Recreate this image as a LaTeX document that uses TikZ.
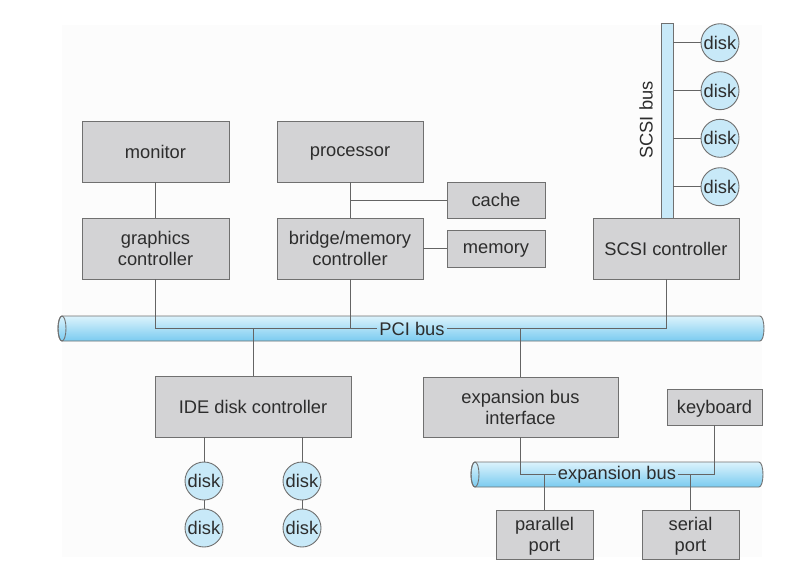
\documentclass[tikz,border=0pt]{standalone}
\usepackage{fontspec}
\setmainfont{Liberation Sans}
\usetikzlibrary{calc}
\definecolor{boxfill}{RGB}{211,211,213}
\definecolor{boxline}{RGB}{112,112,112}
\definecolor{wire}{RGB}{100,100,100}
\definecolor{txt}{RGB}{45,45,45}
\definecolor{diskfill}{RGB}{200,233,248}
\definecolor{bustop}{RGB}{220,243,252}
\definecolor{busbot}{RGB}{122,203,240}
\definecolor{bg}{RGB}{252,252,252}
\tikzset{
  box/.style={draw=boxline, fill=boxfill, line width=0.9pt, text=txt, align=center,
    font=\fontsize{18.3}{21}\selectfont, inner sep=0pt, text depth=0pt},
  disk/.style={circle, draw=boxline, fill=diskfill, line width=0.9pt, text=txt,
    minimum size=38pt, inner sep=0pt, font=\fontsize{18.3}{21}\selectfont},
  wireline/.style={draw=wire, line width=0.9pt},
  buslabel/.style={text=txt, inner sep=2pt, font=\fontsize{18.3}{21}\selectfont},
  busbody/.style={draw=boxline, line width=0.9pt, top color=bustop, bottom color=busbot},
}
\newcommand{\hbus}[4]{% x0 x1 yc ry
  \shade[busbody] (#1,#3-#4) -- (#2,#3-#4) arc[start angle=-90,end angle=90,x radius=4,y radius=#4]
    -- (#1,#3+#4) arc[start angle=90,end angle=270,x radius=4,y radius=#4] -- cycle;
  \draw[draw=boxline, line width=0.9pt] (#1,#3) ellipse[x radius=4,y radius=#4];
}
\begin{document}
\begin{tikzpicture}[x=1pt,y=-1pt]
\useasboundingbox (0,0) rectangle (797,574);
\fill[bg] (62,25) rectangle (762,557);

% buses
\hbus{62}{760}{328.5}{12.5}
\hbus{475}{759}{474.5}{12.5}
\draw[draw=boxline, fill=diskfill, line width=0.9pt] (661,23) rectangle (673,218);
\node[rotate=90, text=txt, font=\fontsize{18.3}{21}\selectfont] (scsibus) at (646,120) {SCSI bus};

% boxes
\node[box, minimum width=147pt, minimum height=61pt] (monitor) at (155.5,151.5) {monitor};
\node[box, minimum width=146pt, minimum height=61pt] (proc) at (350,151.5) {processor};
\node[box, minimum width=147pt, minimum height=61pt] (gfx) at (155.5,248.5) {graphics\\controller};
\node[box, minimum width=146pt, minimum height=61pt] (bridge) at (350,248.5) {bridge/memory\\controller};
\node[box, minimum width=98pt, minimum height=36pt] (cache) at (496,200) {cache};
\node[box, minimum width=98pt, minimum height=37pt] (mem) at (496,248.5) {memory};
\node[box, minimum width=146pt, minimum height=61pt] (scsi) at (666,248.5) {SCSI controller};
\node[box, minimum width=196pt, minimum height=61pt] (ide) at (253,406.5) {IDE disk controller};
\node[box, minimum width=195pt, minimum height=60pt] (ebi) at (520.5,407) {expansion bus\\interface};
\node[box, minimum width=95pt, minimum height=36pt] (kbd) at (714.5,407) {keyboard};
\node[box, minimum width=97pt, minimum height=49pt] (par) at (544.5,534.5) {parallel\\port};
\node[box, minimum width=97pt, minimum height=49pt] (ser) at (690.5,534.5) {serial\\port};

% disks
\node[disk] (sd1) at (720,42.7) {disk};
\node[disk] (sd2) at (720,90.7) {disk};
\node[disk] (sd3) at (720,138.3) {disk};
\node[disk] (sd4) at (720,186.7) {disk};
\node[disk] (id1) at (204,481) {disk};
\node[disk] (id2) at (204,528) {disk};
\node[disk] (id3) at (302,481) {disk};
\node[disk] (id4) at (302,528) {disk};

% bus labels
\node[buslabel] (pci) at (412,328.5) {PCI bus};
\node[buslabel] (exb) at (617,474.5) {expansion bus};

% SCSI bus taps
\coordinate (sbr) at (673,0);
\foreach \d in {sd1,sd2,sd3,sd4} \draw[wireline] (sbr |- \d.west) -- (\d.west);

% connections
\draw[wireline] (monitor) -- (gfx);
\draw[wireline] (proc) -- (bridge);
\draw[wireline] (cache.west) -| ($(proc.south)!0.5!(bridge.north)$);
\draw[wireline] (bridge.east |- mem.west) -- (mem.west);
\draw[wireline] (gfx.south) |- (pci.west);
\draw[wireline] (bridge.south) -- (bridge.south |- pci.west);
\draw[wireline] (pci.east) -| (scsi.south);
\draw[wireline] (ide.north) -- (ide.north |- pci.west);
\draw[wireline] (ebi.north) -- (ebi.north |- pci.east);

\draw[wireline] (ide.south -| id1) -- (id1);
\draw[wireline] (id1) -- (id2);
\draw[wireline] (ide.south -| id3) -- (id3);
\draw[wireline] (id3) -- (id4);

\draw[wireline] (ebi.south) |- (exb.west);
\draw[wireline] (exb.east) -| (kbd.south);
\draw[wireline] (par.north) -- (par.north |- exb.west);
\draw[wireline] (ser.north) -- (ser.north |- exb.east);
\end{tikzpicture}
\end{document}
